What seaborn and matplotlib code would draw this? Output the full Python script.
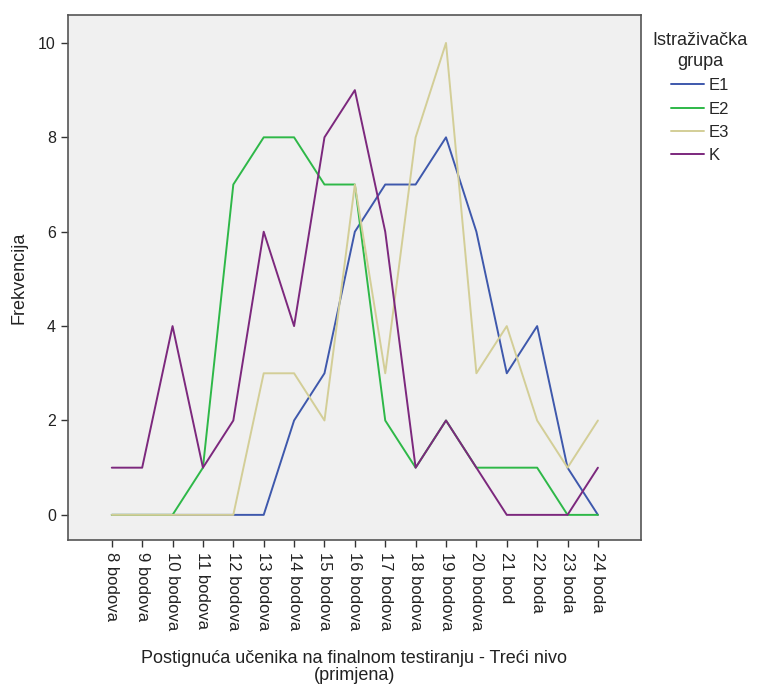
import matplotlib
matplotlib.use("Agg")
import matplotlib.pyplot as plt
import seaborn as sns
import pandas as pd
import numpy as np

categories = ["8 bodova", "9 bodova", "10 bodova", "11 bodova", "12 bodova", "13 bodova",
              "14 bodova", "15 bodova", "16 bodova", "17 bodova", "18 bodova", "19 bodova",
              "20 bodova", "21 bod", "22 boda", "23 boda", "24 boda"]
E1 = [0, 0, 0, 0, 0, 0, 2, 3, 6, 7, 7, 8, 6, 3, 4, 1, 0]
E2 = [0, 0, 0, 1, 7, 8, 8, 7, 7, 2, 1, 2, 1, 1, 1, 0, 0]
E3 = [0, 0, 0, 0, 0, 3, 3, 2, 7, 3, 8, 10, 3, 4, 2, 1, 2]
K = [1, 1, 4, 1, 2, 6, 4, 8, 9, 6, 1, 2, 1, 0, 0, 0, 1]
groups = ["E1", "E2", "E3", "K"]
colors = ["#3E58AC", "#2EB848", "#D3CE97", "#7C287D"]

rows = []
for g, vals in zip(groups, [E1, E2, E3, K]):
    for i, (c, v) in enumerate(zip(categories, vals)):
        rows.append({"pos": i, "cat": c, "grupa": g, "Frekvencija": v})
df = pd.DataFrame(rows)

sns.set_style("white")
plt.rcParams['font.family'] = ['Liberation Sans', 'DejaVu Sans']

fig = plt.figure(figsize=(7.61, 6.86), dpi=100)
ax = fig.add_axes([0.089, 0.213, 0.753, 0.765])
ax.set_facecolor("#F0F0F0")

sns.lineplot(data=df, x="pos", y="Frekvencija", hue="grupa", hue_order=groups,
             palette=colors, linewidth=1.4, ax=ax, legend=True, estimator=None)

ax.set_xlim(-1.45, len(categories) - 1 + 1.41)
ax.set_ylim(-0.53, 10.59)
ax.set_xticks(range(len(categories)))
ax.set_xticklabels(categories, rotation=-90, va="top", ha="center", fontsize=12, color="#222222")
ax.set_yticks([0, 2, 4, 6, 8, 10])
ax.set_yticklabels(["0", "2", "4", "6", "8", "10"], fontsize=11.5, color="#222222")
ax.tick_params(axis="both", direction="out", length=5, width=1, color="#333333", left=True, bottom=True)
ax.set_xlabel("Postignuća učenika na finalnom testiranju - Treći nivo\n(primjena)",
              fontsize=13, color="#222222", linespacing=1.0, labelpad=14)
ax.set_ylabel("Frekvencija", fontsize=13, color="#222222", labelpad=8)
for s in ax.spines.values():
    s.set_color("#555555")
    s.set_linewidth(1.2)

handles, labels = ax.get_legend_handles_labels()
leg = ax.legend(handles, labels, title="Istraživačka\ngrupa", loc="upper left",
                bbox_to_anchor=(1.0, 0.99), frameon=False, fontsize=12,
                title_fontsize=13, handlelength=2.0, handletextpad=0.3,
                labelspacing=0.5, borderaxespad=0.3, alignment="center")
leg.get_title().set_multialignment("center")
leg.get_title().set_linespacing(1.3)
for l in leg.get_lines():
    l.set_linewidth(1.4)

fig.savefig("out.png", dpi=100)
